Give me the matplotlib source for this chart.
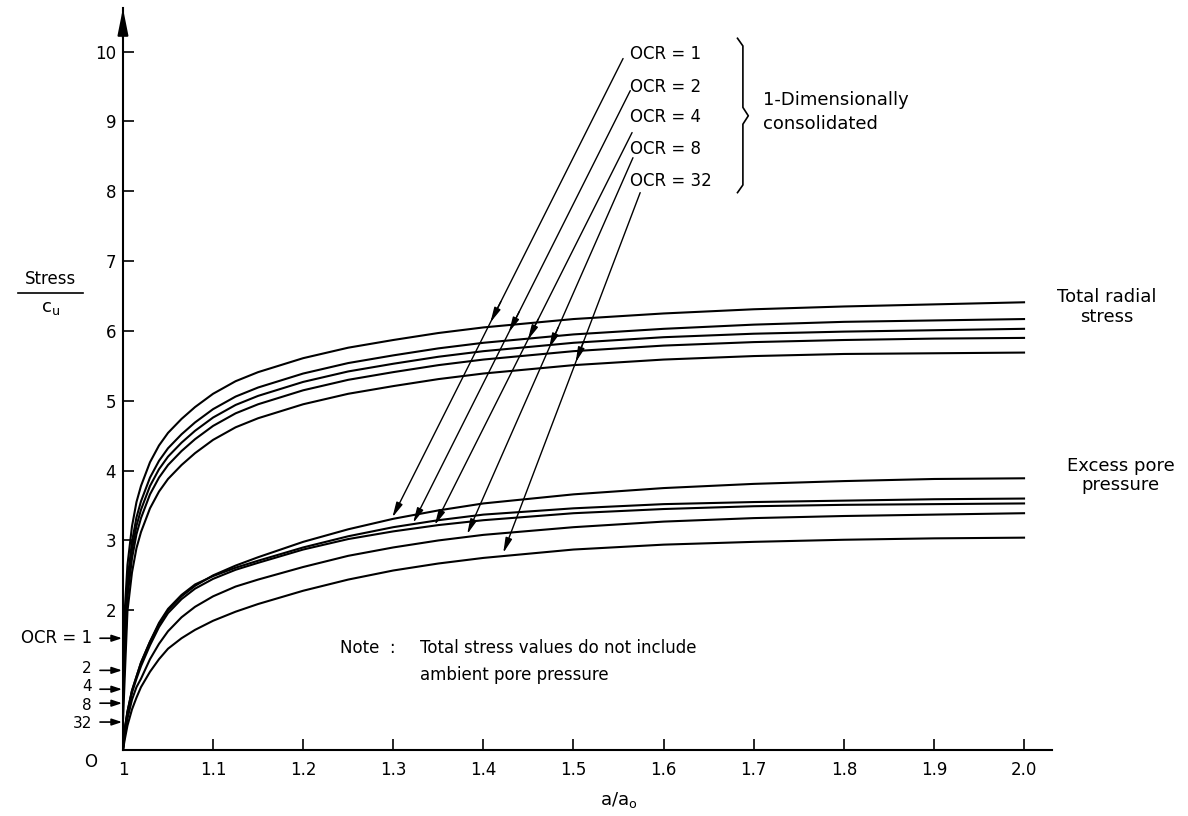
import numpy as np
import matplotlib.pyplot as plt

# stations along a/a0 where the curves were read
a_ratio = [1.0, 1.002, 1.005, 1.01, 1.015, 1.02, 1.03, 1.04, 1.05, 1.065,
           1.08, 1.1, 1.125, 1.15, 1.2, 1.25, 1.3, 1.35, 1.4, 1.5,
           1.6, 1.7, 1.8, 1.9, 2.0]

ocr_labels = ['1', '2', '4', '8', '32']

# total radial stress / cu, one list per OCR
radial_ocr1 = [1.60, 2.00, 2.65, 3.20, 3.55, 3.78, 4.12, 4.36, 4.54, 4.74,
               4.91, 5.10, 5.28, 5.41, 5.61, 5.76, 5.87, 5.97, 6.05, 6.17,
               6.25, 6.31, 6.35, 6.38, 6.41]
radial_ocr2 = [1.14, 1.70, 2.43, 2.98, 3.33, 3.56, 3.90, 4.14, 4.32, 4.52,
               4.69, 4.88, 5.06, 5.19, 5.39, 5.54, 5.65, 5.75, 5.83, 5.95,
               6.03, 6.09, 6.13, 6.15, 6.17]
radial_ocr4 = [0.87, 1.50, 2.31, 2.86, 3.21, 3.44, 3.78, 4.02, 4.20, 4.40,
               4.57, 4.76, 4.94, 5.07, 5.27, 5.42, 5.53, 5.63, 5.71, 5.83,
               5.91, 5.96, 5.99, 6.01, 6.03]
radial_ocr8 = [0.67, 1.32, 2.19, 2.74, 3.09, 3.32, 3.66, 3.90, 4.08, 4.28,
               4.45, 4.64, 4.82, 4.95, 5.15, 5.30, 5.41, 5.51, 5.59, 5.71,
               5.79, 5.84, 5.87, 5.89, 5.90]
radial_ocr32 = [0.40, 1.05, 1.99, 2.54, 2.89, 3.12, 3.46, 3.70, 3.88, 4.08,
                4.25, 4.44, 4.62, 4.75, 4.95, 5.10, 5.21, 5.31, 5.39, 5.51,
                5.59, 5.64, 5.67, 5.68, 5.69]

# excess pore pressure / cu
pore_ocr1 = [0.0, 0.30, 0.55, 0.85, 1.05, 1.25, 1.55, 1.80, 2.00, 2.20,
             2.35, 2.50, 2.64, 2.76, 2.98, 3.16, 3.31, 3.43, 3.53, 3.66,
             3.75, 3.81, 3.85, 3.88, 3.89]
pore_ocr2 = [0.0, 0.30, 0.55, 0.85, 1.05, 1.25, 1.55, 1.82, 2.02, 2.22,
             2.37, 2.49, 2.61, 2.71, 2.90, 3.06, 3.19, 3.29, 3.37, 3.46,
             3.52, 3.55, 3.57, 3.59, 3.60]
pore_ocr4 = [0.0, 0.28, 0.52, 0.82, 1.02, 1.20, 1.50, 1.76, 1.96, 2.16,
             2.31, 2.45, 2.58, 2.68, 2.87, 3.02, 3.13, 3.22, 3.29, 3.39,
             3.45, 3.49, 3.51, 3.52, 3.53]
pore_ocr8 = [0.0, 0.22, 0.45, 0.72, 0.90, 1.02, 1.30, 1.52, 1.70, 1.90,
             2.05, 2.20, 2.34, 2.44, 2.62, 2.78, 2.90, 3.00, 3.08, 3.19,
             3.27, 3.32, 3.35, 3.37, 3.39]
pore_ocr32 = [0.0, 0.15, 0.35, 0.58, 0.75, 0.90, 1.12, 1.30, 1.45, 1.60,
              1.72, 1.85, 1.98, 2.09, 2.28, 2.44, 2.57, 2.67, 2.75, 2.87,
              2.94, 2.98, 3.01, 3.03, 3.04]

radial_curves = [radial_ocr1, radial_ocr2, radial_ocr4, radial_ocr8, radial_ocr32]
pore_curves = [pore_ocr1, pore_ocr2, pore_ocr4, pore_ocr8, pore_ocr32]

# pointer lines from the OCR labels down to the curves
label_y = [9.96, 9.49, 9.06, 8.60, 8.15]
pointer_start = [(1.555, 9.90), (1.563, 9.44), (1.565, 8.84), (1.566, 8.48), (1.574, 7.98)]
pore_tip = [(1.299, 3.33), (1.322, 3.25), (1.346, 3.22), (1.382, 3.09), (1.422, 2.82)]
radial_tip_y = [6.12, 5.98, 5.87, 5.75, 5.55]

# small labels beside the initial-stress arrows on the stress axis
axis_label_y = [1.60, 1.16, 0.91, 0.64, 0.38]

x_ticks = [1.0, 1.1, 1.2, 1.3, 1.4, 1.5, 1.6, 1.7, 1.8, 1.9, 2.0]
x_ticklabels = ['1', '1.1', '1.2', '1.3', '1.4', '1.5', '1.6', '1.7', '1.8', '1.9', '2.0']
y_ticks = [2, 3, 4, 5, 6, 7, 8, 9, 10]

plt.rcParams['font.family'] = 'DejaVu Sans'

fig = plt.figure(figsize=(11.88, 8.16), dpi=100)
ax = fig.add_axes([0.1035, 0.0809, 0.782, 0.909])
ax.set_xlim(1.0, 2.031)
ax.set_ylim(0, 10.62)

for s in ['top', 'right']:
    ax.spines[s].set_visible(False)
ax.spines['left'].set_linewidth(1.5)
ax.spines['bottom'].set_linewidth(1.5)

ax.set_xticks(x_ticks)
ax.set_xticklabels(x_ticklabels)
ax.set_yticks(y_ticks)
ax.tick_params(axis='both', direction='in', length=8, width=1.2, labelsize=12)
ax.tick_params(axis='x', pad=8)
ax.tick_params(axis='y', pad=5)

# arrow head on the stress axis
ax.annotate('', xy=(0, 1), xycoords='axes fraction', xytext=(0, 0.96),
            arrowprops=dict(arrowstyle='-|>,head_length=1.6,head_width=0.32',
                            mutation_scale=10, color='black', lw=1.5,
                            shrinkA=0, shrinkB=0))

for r, p in zip(radial_curves, pore_curves):
    ax.plot(a_ratio, r, color='black', lw=1.5, solid_joinstyle='round')
    ax.plot(a_ratio, p, color='black', lw=1.5, solid_joinstyle='round')

head = dict(arrowstyle='-|>,head_length=0.9,head_width=0.2', mutation_scale=10,
            color='black', lw=1.0, shrinkA=0, shrinkB=0)

for lab, ly, (x0, y0), (xp, yp), yr in zip(ocr_labels, label_y, pointer_start,
                                           pore_tip, radial_tip_y):
    ax.text(1.5627, ly, 'OCR = ' + lab, fontsize=12, va='center', ha='left')
    ax.annotate('', xy=(xp, yp), xytext=(x0, y0), arrowprops=head)
    # second head where the pointer crosses the radial stress curve
    xr = x0 + (xp - x0) * (y0 - yr) / (y0 - yp)
    dx = (xp - x0) / (y0 - yp)
    ax.annotate('', xy=(xr, yr), xytext=(xr - dx * 0.3, yr + 0.3),
                arrowprops=head)

# curly bracket grouping the OCR labels
yb_top, yb_mid, yb_bot = 10.16, 9.08, 8.01
xb = 1.688
bracket_x = [xb - 0.006, xb, xb, xb + 0.006, xb, xb, xb - 0.006]
bracket_y = [yb_top + 0.03, yb_top - 0.08, yb_mid + 0.12, yb_mid, yb_mid - 0.12,
             yb_bot + 0.08, yb_bot - 0.03]
ax.plot(bracket_x, bracket_y, color='black', lw=1.2, clip_on=False)
ax.text(1.710, 9.30, '1-Dimensionally', fontsize=13, va='center', ha='left')
ax.text(1.710, 8.96, 'consolidated', fontsize=13, va='center', ha='left')

# initial stress markers on the stress axis
start_y = [r[0] for r in radial_curves]
for lab, y0, yl in zip(ocr_labels, start_y, axis_label_y):
    ax.annotate('', xy=(0.999, y0), xytext=(0.9745, y0), xycoords='data',
                arrowprops=dict(arrowstyle='-|>,head_length=0.6,head_width=0.2',
                                mutation_scale=10, color='black', lw=1.2,
                                shrinkA=0, shrinkB=0),
                annotation_clip=False)
    if lab == '1':
        ax.text(0.9656, yl, 'OCR = 1', fontsize=12, va='center', ha='right', clip_on=False)
    else:
        ax.text(0.9656, yl, lab, fontsize=11, va='center', ha='right', clip_on=False)

ax.text(0.971, -0.05, 'O', fontsize=12, va='top', ha='right')

# labels for the two curve families
ax.text(2.092, 6.34, 'Total radial\nstress', fontsize=13, ha='center', va='center',
        multialignment='center', linespacing=1.1)
ax.text(2.107, 3.93, 'Excess pore\npressure', fontsize=13, ha='center', va='center',
        multialignment='center', linespacing=1.1)

ax.text(1.241, 1.46, 'Note  :', fontsize=12, va='center', ha='left')
ax.text(1.330, 1.46, 'Total stress values do not include', fontsize=12, va='center', ha='left')
ax.text(1.330, 1.07, 'ambient pore pressure', fontsize=12, va='center', ha='left')

# axis titles
ax.text(1.55, -0.72, r'$\mathrm{a/a_o}$', fontsize=13, ha='center', va='center')
ax.text(0.920, 6.74, 'Stress', fontsize=12, ha='center', va='center')
ax.plot([0.883, 0.956], [6.54, 6.54], color='black', lw=1.2, clip_on=False)
ax.text(0.920, 6.33, r'$\mathrm{c_u}$', fontsize=13, ha='center', va='center')

fig.savefig('out.png', dpi=100)
